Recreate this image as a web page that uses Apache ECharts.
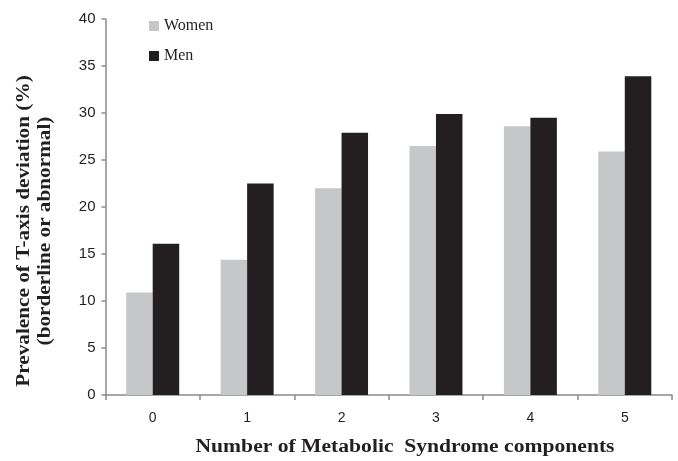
<!DOCTYPE html>
<html>
<head>
<meta charset="utf-8">
<script src="https://cdn.jsdelivr.net/npm/echarts@6/dist/echarts.min.js"></script>
<style>html,body{margin:0;padding:0;background:#fff;}#c{width:678px;height:461px;}</style>
</head>
<body>
<div id="c"></div>
<script>
const categories = ['0', '1', '2', '3', '4', '5'];
const women = [10.9, 14.4, 22.0, 26.5, 28.6, 25.9];
const men = [16.1, 22.5, 27.9, 29.9, 29.5, 33.9];
const yTitle = 'Prevalence of T-axis deviation (%)\n(borderline or abnormal)';
const xTitle = 'Number of Metabolic  Syndrome components';

const chart = echarts.init(document.getElementById('c'), null, {renderer: 'canvas'});
chart.setOption({
  animation: false,
  backgroundColor: '#fff',
  grid: {left: 105.5, right: 6, top: 19, bottom: 66, containLabel: false},
  legend: {
    orient: 'vertical', left: 144, top: 13,
    itemWidth: 10, itemHeight: 10, itemGap: 14,
    icon: 'rect',
    textStyle: {fontFamily: 'Liberation Serif', fontSize: 16, color: '#231f20'},
    data: ['Women', 'Men']
  },
  xAxis: {
    type: 'category', data: categories,
    axisLine: {lineStyle: {color: '#8a8a8a', width: 1.5}},
    axisTick: {show: true, length: 5, lineStyle: {color: '#8a8a8a', width: 1.5}},
    axisLabel: {fontFamily: 'Liberation Sans', fontSize: 14, color: '#231f20', margin: 16}
  },
  yAxis: {
    type: 'value', min: 0, max: 40, interval: 5,
    axisLine: {show: true, lineStyle: {color: '#8a8a8a', width: 1.5}},
    axisTick: {show: true, length: 4, lineStyle: {color: '#8a8a8a', width: 1.5}},
    splitLine: {show: false},
    axisLabel: {fontFamily: 'Liberation Sans', fontSize: 15, color: '#231f20', margin: 10}
  },
  graphic: [
    {type: 'text', x: 35, y: 231, rotation: Math.PI / 2, scaleX: 1.18,
     style: {text: yTitle, fontFamily: 'Liberation Serif', fontWeight: 'bold', fontSize: 18,
             fill: '#231f20', align: 'center', verticalAlign: 'middle', lineHeight: 21}},
    {type: 'text', x: 405, y: 447, scaleX: 1.2,
     style: {text: xTitle, fontFamily: 'Liberation Serif', fontWeight: 'bold', fontSize: 18,
             fill: '#231f20', align: 'center', verticalAlign: 'middle'}}
  ],
  series: [
    {name: 'Women', type: 'bar', data: women, barWidth: 26.5, barGap: '0%',
     itemStyle: {color: '#c6c7c9'}},
    {name: 'Men', type: 'bar', data: men, barWidth: 26.5, barGap: '0%',
     itemStyle: {color: '#231f20'}}
  ]
});
</script>
</body>
</html>
